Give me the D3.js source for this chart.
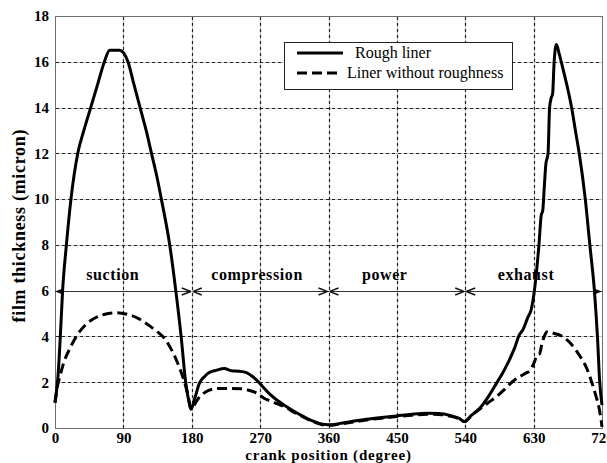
<!DOCTYPE html>
<html>
<head>
<meta charset="utf-8">
<script src="https://cdn.jsdelivr.net/npm/d3@7"></script>
<style>
  body { margin: 0; background: #fff; }
  svg { display: block; font-family: "Liberation Serif", "Times New Roman", serif; }
</style>
</head>
<body>
<svg id="chart" width="607" height="463"></svg>
<script>
'use strict';

/* Data */

var xTicks = [0, 90, 180, 270, 360, 450, 540, 630, 720],
    yTicks = [0, 2, 4, 6, 8, 10, 12, 14, 16, 18];

var roughDeg = [0, 2, 4, 7, 10, 15, 21, 30, 38, 47, 56, 65, 72, 85, 96, 104, 112, 120, 127, 134,
                140, 151, 159, 166, 172, 176, 179, 184, 190, 197, 203, 212, 223, 232, 242, 252,
                260, 267, 275, 282, 293, 304, 315, 326, 338, 348, 356, 362, 372, 390, 410, 430,
                450, 470, 490, 505, 520, 532, 539, 548, 559, 570, 581, 590, 598, 605, 611, 616,
                622, 627, 631, 637, 640, 642, 644, 646, 649, 651, 653, 655, 657, 660, 664, 670,
                675, 680, 685, 690, 698, 704, 710, 714, 717, 720],
    roughFilm = [1.1, 1.6, 2.3, 4.0, 6.0, 8.0, 10.0, 12.0, 13.0, 14.0, 15.0, 16.0, 16.5, 16.5, 16.0,
                 15.0, 14.0, 13.0, 12.0, 11.0, 10.0, 8.0, 6.0, 4.0, 2.0, 1.2, 0.82, 1.3, 1.95, 2.25,
                 2.42, 2.52, 2.6, 2.5, 2.48, 2.42, 2.25, 2.04, 1.75, 1.5, 1.2, 0.95, 0.72, 0.52, 0.32,
                 0.2, 0.15, 0.14, 0.18, 0.28, 0.38, 0.46, 0.53, 0.6, 0.64, 0.63, 0.55, 0.42, 0.28,
                 0.55, 0.86, 1.35, 1.95, 2.45, 2.97, 3.5, 4.06, 4.3, 4.8, 5.2, 6.0, 8.0, 9.3, 9.5,
                 10.5, 11.5, 12.0, 14.0, 14.4, 14.6, 16.0, 16.75, 16.3, 15.5, 14.8, 14.0, 13.0, 12.0,
                 10.0, 8.0, 6.0, 4.0, 2.0, 1.0];

var smoothDeg = [0, 3, 6, 12, 20, 28, 40, 55, 70, 82, 95, 110, 125, 135, 144, 152, 160, 166, 170.5,
                 175, 179, 185, 190, 195, 203, 212, 230, 245, 255, 262, 267, 275, 282, 293, 304, 315,
                 326, 338, 348, 356, 362, 372, 390, 410, 430, 450, 470, 490, 505, 520, 532, 539, 550,
                 560, 570, 581, 592, 602, 612, 620, 625, 630, 635, 638, 641, 644, 648, 655, 668, 680,
                 690, 700, 707, 712, 716, 719, 720],
    smoothFilm = [1.1, 1.8, 2.2, 2.9, 3.5, 4.0, 4.5, 4.85, 5.0, 5.04, 4.97, 4.78, 4.45, 4.2, 3.92, 3.5,
                  2.95, 2.45, 2.0, 1.45, 0.85, 1.1, 1.35, 1.5, 1.65, 1.72, 1.73, 1.72, 1.65, 1.58, 1.5,
                  1.3, 1.2, 1.05, 0.9, 0.68, 0.5, 0.3, 0.18, 0.12, 0.12, 0.16, 0.25, 0.35, 0.43, 0.5,
                  0.56, 0.6, 0.59, 0.52, 0.4, 0.28, 0.6, 0.85, 1.1, 1.37, 1.7, 2.02, 2.25, 2.4, 2.5,
                  2.8, 3.2, 3.25, 3.7, 4.0, 4.2, 4.15, 4.0, 3.65, 3.19, 2.6, 1.95, 1.4, 0.9, 0.3, 0.05];

var strokeNames = ['suction', 'compression', 'power', 'exhaust'],
    strokeBounds = [0, 180, 360, 540, 720],
    strokeLabelDeg = [76, 266, 434, 620],
    strokeLevel = 6;

var legendNames = ['Rough liner', 'Liner without roughness'];

var svg = d3.select('#chart'),
    pL = 55, pR = 602, pT = 16, pB = 428;

var x = d3.scaleLinear().domain([0, 720]).range([pL, pR]),
    y = d3.scaleLinear().domain([0, 18]).range([pB, pT]);

/* axes */
var xAxis = svg.append('g')
  .attr('transform', 'translate(0,' + pB + ')')
  .call(d3.axisBottom(x).tickValues(xTicks).tickSize(0).tickPadding(4).tickFormat(d3.format('d')));

var yAxis = svg.append('g')
  .attr('transform', 'translate(' + pL + ',0)')
  .call(d3.axisLeft(y).tickValues(yTicks).tickSize(0).tickPadding(6).tickFormat(d3.format('d')));

[xAxis, yAxis].forEach(function (a) {
  a.select('.domain').remove();
  a.selectAll('text')
    .style('font-family', '"Liberation Serif", serif')
    .style('font-size', '15px')
    .style('font-weight', 'bold')
    .attr('fill', '#000');
});

svg.append('rect')
  .attr('x', pL + 0.5)
  .attr('y', pT + 0.5)
  .attr('width', pR - pL)
  .attr('height', pB - pT)
  .attr('fill', 'none')
  .attr('stroke', '#6e6e6e')
  .attr('stroke-width', 1);

/* grid: a faint solid line with dark short dashes over it (dotted look) */
var gridPath = d3.path();
xTicks.slice(1, -1).forEach(function (t) {
  var gx = Math.round(x(t)) + 0.5;
  gridPath.moveTo(gx, pT + 1);
  gridPath.lineTo(gx, pB);
});
yTicks.slice(1, -1).forEach(function (t) {
  var gy = Math.round(y(t)) + 0.5;
  gridPath.moveTo(pL + 1, gy);
  gridPath.lineTo(pR, gy);
});

svg.append('path')
  .attr('d', gridPath.toString())
  .attr('fill', 'none')
  .attr('stroke', '#c4c4c4')
  .attr('stroke-width', 1);

svg.append('path')
  .attr('d', gridPath.toString())
  .attr('fill', 'none')
  .attr('stroke', '#222')
  .attr('stroke-width', 1.2)
  .attr('stroke-dasharray', '3,3');

/* stroke annotations at film = 6 */
var defs = svg.append('defs');
defs.append('marker')
  .attr('id', 'chev')
  .attr('viewBox', '0 0 10 10')
  .attr('refX', 10).attr('refY', 5)
  .attr('markerWidth', 10).attr('markerHeight', 10)
  .attr('markerUnits', 'userSpaceOnUse')
  .attr('orient', 'auto-start-reverse')
  .append('path')
  .attr('d', 'M1,1.5 L10,5 L1,8.5')
  .attr('fill', 'none')
  .attr('stroke', '#111')
  .attr('stroke-width', 1.4);
defs.append('marker')
  .attr('id', 'tri')
  .attr('viewBox', '0 0 10 10')
  .attr('refX', 10).attr('refY', 5)
  .attr('markerWidth', 9).attr('markerHeight', 9)
  .attr('markerUnits', 'userSpaceOnUse')
  .attr('orient', 'auto-start-reverse')
  .append('path')
  .attr('d', 'M0,1 L10,5 L0,9 Z')
  .attr('fill', '#111');

var segs = d3.range(strokeNames.length).map(function (i) {
  return [strokeBounds[i], strokeBounds[i + 1]];
});

svg.append('g').selectAll('line')
  .data(segs)
  .join('line')
  .attr('x1', function (d) { return x(d[0]) + (d[0] === 0 ? 0 : 1); })
  .attr('x2', function (d) { return x(d[1]) - (d[1] === 720 ? 0 : 1); })
  .attr('y1', Math.round(y(strokeLevel)) + 0.5)
  .attr('y2', Math.round(y(strokeLevel)) + 0.5)
  .attr('stroke', '#333')
  .attr('stroke-width', 1)
  .attr('marker-start', function (d) { return d[0] === 0 ? 'url(#tri)' : 'url(#chev)'; })
  .attr('marker-end', function (d) { return d[1] === 720 ? 'url(#tri)' : 'url(#chev)'; });

svg.append('g').selectAll('text')
  .data(strokeNames)
  .join('text')
  .attr('x', function (d, i) { return x(strokeLabelDeg[i]); })
  .attr('y', 280)
  .attr('text-anchor', 'middle')
  .style('font-size', '16px')
  .style('font-weight', 'bold')
  .style('letter-spacing', '0.6px')
  .text(function (d) { return d; });

/* curves */
var line = d3.line()
  .x(function (d) { return x(d[0]); })
  .y(function (d) { return y(d[1]); })
  .curve(d3.curveMonotoneX);

svg.append('path')
  .datum(d3.zip(smoothDeg, smoothFilm))
  .attr('d', line)
  .attr('fill', 'none')
  .attr('stroke', '#000')
  .attr('stroke-width', 3)
  .attr('stroke-dasharray', '10,5');

svg.append('path')
  .datum(d3.zip(roughDeg, roughFilm))
  .attr('d', line)
  .attr('fill', 'none')
  .attr('stroke', '#000')
  .attr('stroke-width', 3)
  .attr('stroke-linejoin', 'round');

/* legend */
var lg = svg.append('g');
lg.append('rect')
  .attr('x', 284.5).attr('y', 42.5)
  .attr('width', 228).attr('height', 47)
  .attr('fill', '#fff')
  .attr('stroke', '#222')
  .attr('stroke-width', 1);

lg.selectAll('line')
  .data(legendNames)
  .join('line')
  .attr('x1', 297)
  .attr('x2', function (d, i) { return i ? 339 : 343; })
  .attr('y1', function (d, i) { return 53 + i * 20; })
  .attr('y2', function (d, i) { return 53 + i * 20; })
  .attr('stroke', '#000')
  .attr('stroke-width', 3)
  .attr('stroke-dasharray', function (d, i) { return i ? '10,5' : null; });

lg.selectAll('text')
  .data(legendNames)
  .join('text')
  .attr('x', function (d, i) { return i ? 347 : 355; })
  .attr('y', function (d, i) { return 58 + i * 20; })
  .style('font-size', '16px')
  .text(function (d) { return d; });

/* axis titles */
svg.append('text')
  .attr('x', (pL + pR) / 2)
  .attr('y', 459.5)
  .attr('text-anchor', 'middle')
  .style('font-size', '15px')
  .style('font-weight', 'bold')
  .style('letter-spacing', '0.8px')
  .text('crank position (degree)');

svg.append('text')
  .attr('transform', 'translate(25,226) rotate(-90)')
  .attr('text-anchor', 'middle')
  .attr('textLength', 193)
  .attr('lengthAdjust', 'spacing')
  .style('font-size', '18px')
  .style('font-weight', 'bold')
  .text('film thickness (micron)');
</script>
</body>
</html>
